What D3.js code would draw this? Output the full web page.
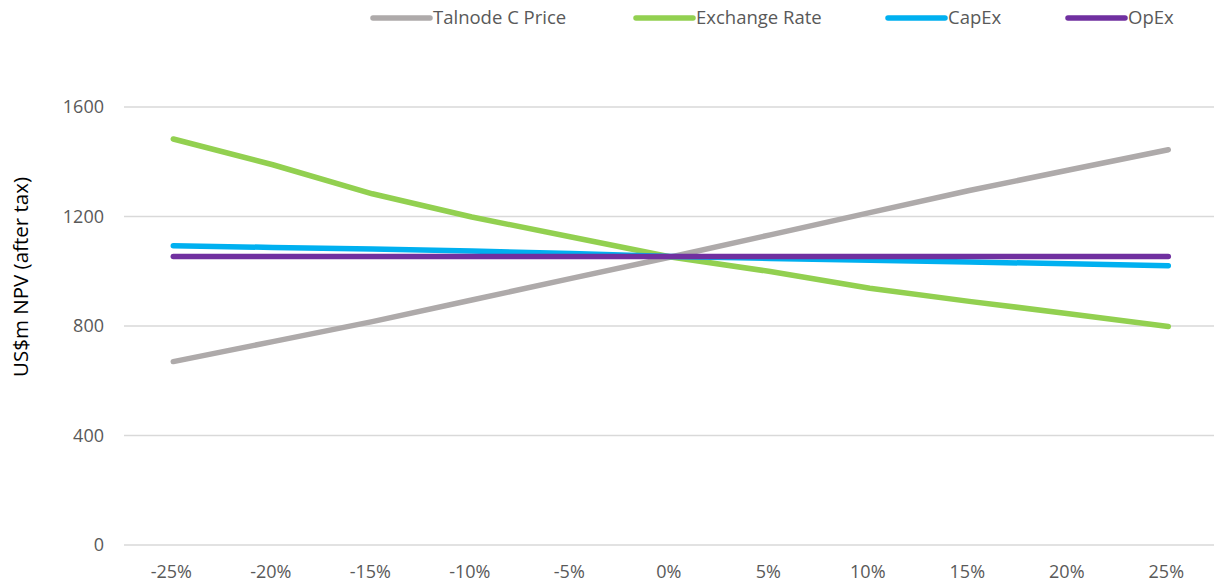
<!DOCTYPE html>
<html>
<head>
<meta charset="utf-8">
<script src="https://cdn.jsdelivr.net/npm/d3@7"></script>
<style>
    html, body { margin: 0; padding: 0; background: #fff; }
    svg { display: block; font-family: "Open Sans", sans-serif; }
</style>
</head>
<body>
<svg id="chart" width="1214" height="585"></svg>
<script>
// sensitivity categories
const categories = ["-25%", "-20%", "-15%", "-10%", "-5%", "0%", "5%", "10%", "15%", "20%", "25%"];

// US$m NPV (after tax) per series
const talnodePrice = [670, 743, 816, 895, 974, 1052, 1133, 1214, 1295, 1370, 1444];
const exchangeRate = [1483, 1389, 1283, 1198, 1125, 1052, 999, 938, 890, 845, 798];
const capEx = [1093, 1087, 1081, 1074, 1065, 1054, 1047, 1040, 1034, 1027, 1020];
const opEx = [1054, 1054, 1054, 1054, 1054, 1054, 1054, 1054, 1054, 1054, 1054];

const yTicks = [0, 400, 800, 1200, 1600];

const seriesNames = ["Talnode C Price", "Exchange Rate", "CapEx", "OpEx"];
const seriesColors = ["#AEAAAA", "#92D050", "#00B0F0", "#7030A0"];
const seriesValues = [talnodePrice, exchangeRate, capEx, opEx];

const svg = d3.select("#chart");

// plot area
const plot = { left: 124, right: 1214, top: 107, bottom: 545 };

let x = d3.scalePoint()
    .domain(categories)
    .range([173.3, 1168.3]);

let y = d3.scaleLinear()
    .domain([0, 1600])
    .range([plot.bottom, plot.top]);

// gridlines
svg.append("g")
    .selectAll("line")
    .data(yTicks)
    .join("line")
        .attr("x1", plot.left)
        .attr("x2", plot.right)
        .attr("y1", d => y(d))
        .attr("y2", d => y(d))
        .style("stroke", "#D9D9D9")
        .style("stroke-width", 1.5)

// y tick labels
svg.append("g")
    .selectAll("text")
    .data(yTicks)
    .join("text")
        .attr("x", 104)
        .attr("y", d => y(d))
        .attr("dy", "0.35em")
        .attr("text-anchor", "end")
        .style("font-size", "18px")
        .style("fill", "#595959")
        .text(d => d)

// x tick labels
svg.append("g")
    .selectAll("text")
    .data(categories)
    .join("text")
        .attr("x", d => x(d) - 2)
        .attr("y", 578)
        .attr("text-anchor", "middle")
        .style("font-size", "18px")
        .style("fill", "#595959")
        .text(d => d)

// y axis title
svg.append("text")
    .attr("transform", "translate(28, 277) rotate(-90)")
    .attr("text-anchor", "middle")
    .style("font-size", "20.5px")
    .style("fill", "#000")
    .text("US$m NPV (after tax)")

// series lines
let line = d3.line()
    .x((d, i) => x(categories[i]))
    .y(d => y(d))

svg.append("g")
    .selectAll("path")
    .data(seriesValues)
    .join("path")
        .attr("d", d => line(d))
        .style("fill", "none")
        .style("stroke", (d, i) => seriesColors[i])
        .style("stroke-width", 5.5)
        .style("stroke-linecap", "round")
        .style("stroke-linejoin", "round")

// legend
const legendX = [373, 636, 888, 1068];
let legend = svg.append("g")
    .selectAll("g")
    .data(seriesNames)
    .join("g")
        .attr("transform", (d, i) => "translate(" + legendX[i] + ", 18)")

legend.append("line")
    .attr("x1", 0)
    .attr("x2", 57)
    .style("stroke", (d, i) => seriesColors[i])
    .style("stroke-width", 5.5)
    .style("stroke-linecap", "round")

legend.append("text")
    .attr("x", 60)
    .attr("dy", "0.35em")
    .style("font-size", "18.5px")
    .style("fill", "#595959")
    .text(d => d)
</script>
</body>
</html>
